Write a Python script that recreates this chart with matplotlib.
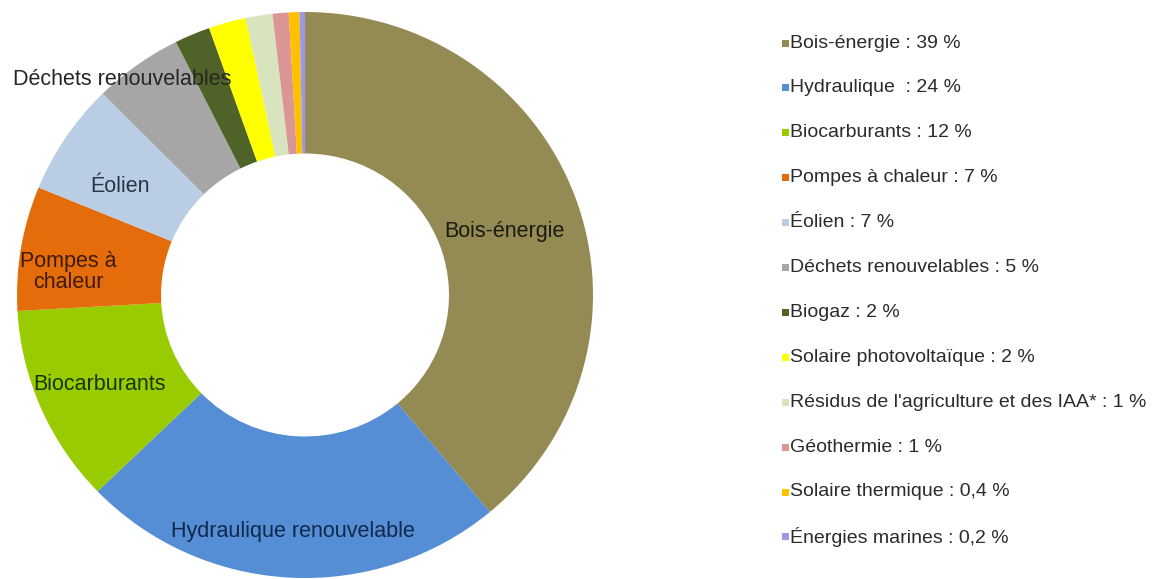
import matplotlib
matplotlib.use("Agg")
import matplotlib.pyplot as plt
from matplotlib.patches import Rectangle

# ---- data ----
categories = ["Bois-énergie", "Hydraulique renouvelable", "Biocarburants",
              "Pompes à\nchaleur", "Éolien", "Déchets renouvelables", "Biogaz",
              "Solaire photovoltaïque", "Résidus de l'agriculture et des IAA*",
              "Géothermie", "Solaire thermique", "Énergies marines"]
legend_names = ["Bois-énergie", "Hydraulique ", "Biocarburants", "Pompes à chaleur",
                "Éolien", "Déchets renouvelables", "Biogaz", "Solaire photovoltaïque",
                "Résidus de l'agriculture et des IAA*", "Géothermie",
                "Solaire thermique", "Énergies marines"]
legend_values = ["39", "24", "12", "7", "7", "5", "2", "2", "1", "1", "0,4", "0,2"]
# slice shares (%) as read from the drawn ring
shares = [38.9, 23.9, 11.3, 7.1, 6.4, 5.0, 2.0, 2.1, 1.5, 0.9, 0.6, 0.3]
colors = ["#948A54", "#558ED5", "#99CC00", "#E46C0A", "#B9CDE5", "#A6A6A6",
          "#4F6228", "#FFFF00", "#D7E4BD", "#D99694", "#FFC000", "#9999E6"]
label_colors = ["#1c1a10", "#10284a", "#1d3300", "#3f1a02", "#2a3444", "#262626"]

# label positions (data coords, radius 1 = outer edge)
label_pos = [(0.694, 0.223), (-0.042, -0.837), (-0.715, -0.318),
             (-0.823, 0.081), (-0.642, 0.385), (-0.635, 0.760)]

FONT = "Liberation Sans"
W, H = 1153, 579
fig = plt.figure(figsize=(W / 100, H / 100), dpi=100)
fig.patch.set_facecolor("white")

# pie axes: centre at (305, 295) px from top-left
cx, cy, rx, ry = 305, 295, 288, 283
bw, bh = 2.1 * rx, 2.1 * ry
ax = fig.add_axes([(cx - bw / 2) / W, (H - cy - bh / 2) / H, bw / W, bh / H])
ax.pie(shares, colors=colors, startangle=90, counterclock=False, radius=1.0,
       normalize=True, wedgeprops=dict(width=0.5, linewidth=0))
ax.set_xlim(-1.05, 1.05)
ax.set_ylim(-1.05, 1.05)
ax.set_aspect("auto")
ax.axis("off")

for name, (x, y), c in zip(categories[:6], label_pos, label_colors):
    ax.text(x, y, name, ha="center", va="center", fontsize=15.5, family=FONT,
            color=c, linespacing=1.0)

# legend (manual, one row per category)
x_mark, x_text, y0, dy, msz = 782, 790, 43, 44.9, 7
for i, (nm, vs, c) in enumerate(zip(legend_names, legend_values, colors)):
    yp = y0 + i * dy
    fig.patches.append(Rectangle((x_mark / W, (H - yp - msz / 2) / H), msz / W, msz / H,
                                 transform=fig.transFigure, facecolor=c, edgecolor="none"))
    fig.text(x_text / W, (H - yp) / H, f"{nm} : {vs} %", ha="left", va="center",
             fontsize=14, family=FONT, color="#2b2b2b")

fig.savefig("out.png", dpi=100, facecolor="white")
